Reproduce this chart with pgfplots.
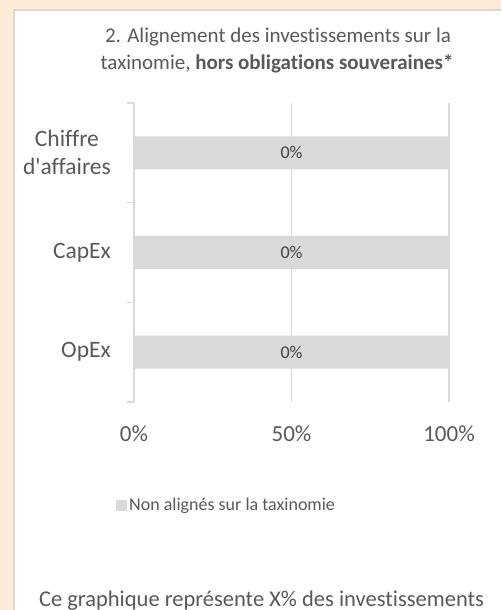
\documentclass[border=0pt]{standalone}
\usepackage{fontspec}
\setmainfont{Carlito}[Ligatures={NoCommon}, RawFeature={-liga}]
\usepackage{pgfplots}
\pgfplotsset{compat=1.18}
\definecolor{peach}{HTML}{FDEBD9}
\definecolor{panelgray}{HTML}{D9D9D9}
\definecolor{bargray}{HTML}{D9D9D9}
\definecolor{txt}{HTML}{595959}
\definecolor{lbl}{HTML}{404040}
\begin{document}
\begin{tikzpicture}[x=1pt,y=1pt]
\clip (0,0) rectangle (501,610);
\fill[peach] (0,0) rectangle (501,610);
\fill[white] (14,-10) rectangle (520,600);
\draw[panelgray, line width=2pt] (14,-10) -- (14,600) -- (520,600);
% title
\node[anchor=base, text=txt, font=\fontsize{21}{27}\selectfont, inner sep=0pt] at (278,567) {2. Alignement des investissements sur la};
\node[anchor=base, text=txt, font=\fontsize{21}{27}\selectfont, inner sep=0pt] at (277,540) {taxinomie, \textbf{hors obligations souveraines*}};
\begin{axis}[
    at={(134pt,208pt)}, anchor=south west,
    scale only axis, width=315pt, height=299pt,
    xmin=0, xmax=100, ymin=-0.5, ymax=2.5,
    xtick={0,50,100}, xticklabels={0\%,50\%,100\%},
    ytick={0,1,2}, yticklabels={OpEx,CapEx,{Chiffre\\d\textquotesingle affaires}},
    minor ytick={-0.5,0.5,1.5,2.5},
    ytick pos=left, xtick pos=bottom,
    tick align=outside,
    major tick length=0pt, minor tick length=7pt,
    tick style={panelgray, line width=1.5pt},
    axis line style={draw=none},
    xmajorgrids,
    major grid style={panelgray, line width=1.5pt},
    xticklabel style={font=\fontsize{23}{28}\selectfont, text=txt, anchor=base, inner sep=0pt, yshift=-40pt},
    yticklabel style={font=\fontsize{23.5}{28}\selectfont, text=txt, align=center, anchor=east, inner sep=0pt, xshift=-23pt},
    legend style={at={(-0.0571,-0.3445)}, anchor=west, draw=none, fill=none, inner sep=0pt,
        font=\fontsize{18}{22}\selectfont, text=txt},
    legend image code/.code={\fill[bargray] (0pt,-5.5pt) rectangle (11pt,5.5pt);},
]
\addplot[xbar, bar width=33pt, fill=bargray, draw=none] coordinates {(100,0) (100,1) (100,2)};
\addlegendentry{Non alignés sur la taxinomie}
\addplot[draw=none, mark=none, forget plot, nodes near coords, point meta=explicit symbolic,
    every node near coord/.style={anchor=center, text=lbl, font=\fontsize{18}{22}\selectfont}]
    coordinates {(50,0) [0\%] (50,1) [0\%] (50,2) [0\%]};
\end{axis}
\node[anchor=base, text=txt, font=\fontsize{22.5}{27}\selectfont, inner sep=0pt] at (261.5,4) {Ce graphique représente X\% des investissements};
\end{tikzpicture}
\end{document}
